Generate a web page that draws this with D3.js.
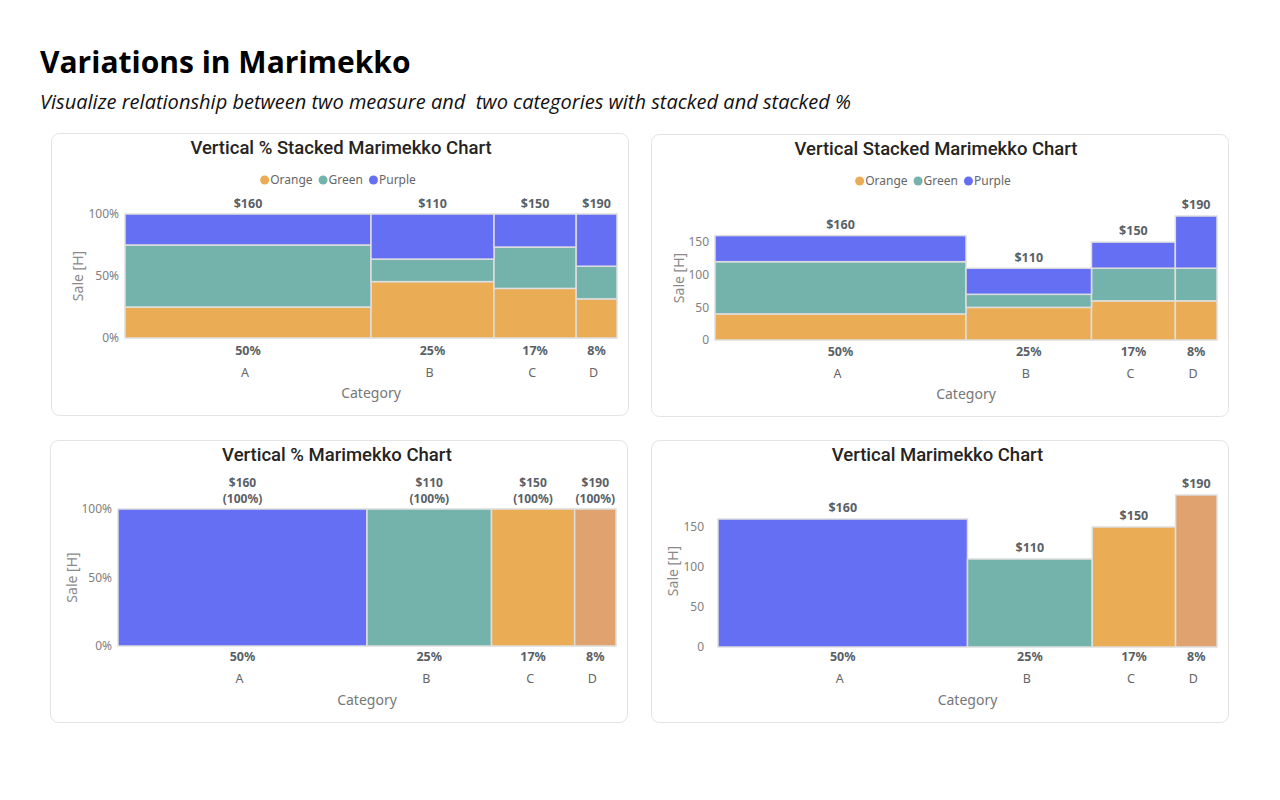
<!DOCTYPE html>
<html>
<head>
<meta charset="utf-8">
<script src="https://cdn.jsdelivr.net/npm/d3@7"></script>
<style>
  body { margin: 0; background: #fff; }
  svg { display: block; }
</style>
</head>
<body>
<svg id="chart" width="1280" height="800"></svg>
<script>
// ---------------- DATA ----------------
const categories = ["A", "B", "C", "D"];
const seriesNames = ["Orange", "Green", "Purple"];
const widthShare = [0.50, 0.25, 0.167, 0.083];     // share of width (bottom % labels)
const orangeValues = [40, 50, 60, 60];
const greenValues = [80, 20, 50, 50];
const purpleValues = [40, 40, 40, 80];
const totals = [160, 110, 150, 190];
const pctTicks = [0, 0.5, 1];
const valueTicks = [0, 50, 100, 150];

// ---------------- STYLE ----------------
const seriesColors = { Orange: "#EAAD55", Green: "#74B3AB", Purple: "#646FF3" };
const categoryColors = ["#646FF3", "#74B3AB", "#EAAD55", "#E0A36F"];
const titleFont = "Roboto, 'Noto Sans', sans-serif";
const labelFont = "'Noto Sans', 'Open Sans', sans-serif";

const svg = d3.select("#chart");

svg.append("text").attr("x", 40).attr("y", 73)
  .attr("font-family", "'Open Sans', sans-serif").attr("font-weight", 700)
  .attr("font-size", 30).attr("fill", "#000").text("Variations in Marimekko");
svg.append("text").attr("x", 40).attr("y", 109)
  .attr("font-family", "'Open Sans', sans-serif").attr("font-style", "italic")
  .attr("font-size", 19.5).attr("fill", "#111")
  .attr("textLength", 811).attr("lengthAdjust", "spacingAndGlyphs")
  .attr("xml:space", "preserve").style("white-space", "pre")
  .text("Visualize relationship between two measure and  two categories with stacked and stacked %");

const seriesValues = { Orange: orangeValues, Green: greenValues, Purple: purpleValues };

const panels = [
  { box: [51, 133, 577, 282], title: "Vertical % Stacked Marimekko Chart", titleY: 148, legendY: 180,
    plot: [125, 617, 338, 214], mode: "pctStack", topLabelY: 204, pctY: 351, catY: 373, axisTitleY: 393, yTitleX: 78 },
  { box: [651, 134, 577, 282], title: "Vertical Stacked Marimekko Chart", titleY: 149, legendY: 181,
    plot: [715, 1217, 340, 216], mode: "stack", pctY: 352, catY: 374, axisTitleY: 394, yTitleX: 679 },
  { box: [50, 440, 577, 282], title: "Vertical % Marimekko Chart", titleY: 455,
    plot: [118, 616, 646, 509], mode: "pct", topLabelY: 483, pctY: 657, catY: 679, axisTitleY: 700, yTitleX: 72 },
  { box: [651, 440, 577, 282], title: "Vertical Marimekko Chart", titleY: 455,
    plot: [718, 1217, 647, 495], mode: "value", pctY: 657, catY: 679, axisTitleY: 700, yTitleX: 673 }
];

panels.forEach(p => {
  const g = svg.append("g");
  const [bx, by, bw, bh] = p.box;
  g.append("rect").attr("x", bx + 0.5).attr("y", by + 0.5).attr("width", bw).attr("height", bh)
    .attr("rx", 8).attr("fill", "#fff").attr("stroke", "#e3e3e3").attr("stroke-width", 1);

  const [px0, px1, py0, py1] = p.plot;
  const cx = (px0 + px1) / 2;

  g.append("text").attr("x", cx - 30).attr("y", p.titleY)
    .attr("text-anchor", "middle").attr("dy", "0.35em")
    .attr("font-family", titleFont).attr("font-weight", 500).attr("font-size", 18.5).attr("fill", "#252423")
    .text(p.title);

  // legend
  if (p.legendY) {
    const lg = g.append("g");
    let x = 0;
    seriesNames.forEach(name => {
      lg.append("circle").attr("cx", x + 4.5).attr("cy", p.legendY).attr("r", 4.5).attr("fill", seriesColors[name]);
      const t = lg.append("text").attr("x", x + 10).attr("y", p.legendY).attr("dy", "0.35em")
        .attr("font-family", labelFont).attr("font-size", 12).attr("fill", "#666").text(name);
      x += 10 + t.node().getComputedTextLength() + 6;
    });
    const w = x - 6;
    lg.attr("transform", `translate(${cx - 33 - w / 2},0)`);
  }

  // x scale (cumulative widths)
  const cum = d3.cumsum(widthShare);
  const starts = widthShare.map((w, i) => cum[i] - w);
  const x = d3.scaleLinear().domain([0, d3.sum(widthShare)]).range([px0, px1]);

  const isPct = p.mode === "pct" || p.mode === "pctStack";
  const y = isPct ? d3.scaleLinear().domain([0, 1]).range([py0, py1])
                  : d3.scaleLinear().domain([0, d3.max(totals)]).range([py0, py1]);

  // y axis
  const yAxis = d3.axisLeft(y).tickValues(isPct ? pctTicks : valueTicks)
    .tickFormat(isPct ? d3.format(".0%") : d3.format("d")).tickSize(0).tickPadding(isPct ? 6 : (p.mode === "stack" ? 6 : 14));
  const ya = g.append("g").attr("transform", `translate(${px0},0)`).call(yAxis);
  ya.select(".domain").remove();
  ya.selectAll("text").attr("font-family", labelFont).attr("font-size", 12).attr("fill", "#808080");

  g.append("text").attr("transform", `translate(${p.yTitleX},${(py0 + py1) / 2}) rotate(-90)`)
    .attr("text-anchor", "middle").attr("dy", "0.35em")
    .attr("font-family", labelFont).attr("font-size", 14).attr("fill", "#8a8a8a").text("Sale [H]");

  const barStroke = "#dedede";
  if (p.mode === "pctStack" || p.mode === "stack") {
    const rows = categories.map((c, i) => {
      const r = { cat: c, i };
      seriesNames.forEach(s => r[s] = seriesValues[s][i]);
      return r;
    });
    const stack = d3.stack().keys(seriesNames);
    if (p.mode === "pctStack") stack.offset(d3.stackOffsetExpand);
    const layers = stack(rows);
    layers.forEach(layer => {
      g.append("g").selectAll("rect").data(layer).join("rect")
        .attr("x", (d, i) => x(starts[i]))
        .attr("width", (d, i) => x(cum[i]) - x(starts[i]))
        .attr("y", d => y(d[1]))
        .attr("height", d => y(d[0]) - y(d[1]))
        .attr("fill", seriesColors[layer.key])
        .attr("stroke", barStroke).attr("stroke-width", 1.5);
    });
  } else {
    g.append("g").selectAll("rect").data(totals).join("rect")
      .attr("x", (d, i) => x(starts[i]))
      .attr("width", (d, i) => x(cum[i]) - x(starts[i]))
      .attr("y", d => p.mode === "pct" ? y(1) : y(d))
      .attr("height", d => p.mode === "pct" ? y(0) - y(1) : y(0) - y(d))
      .attr("fill", (d, i) => categoryColors[i])
      .attr("stroke", barStroke).attr("stroke-width", 1.5);
  }

  const mid = i => x(starts[i] + widthShare[i] / 2);
  const bold = (sel, size = 12.5) => sel.attr("font-family", labelFont).attr("font-weight", 700)
    .attr("font-size", size).attr("fill", "#5a5f66").attr("text-anchor", "middle").attr("dy", "0.35em");

  // top labels
  totals.forEach((t, i) => {
    const lx = mid(i);
    if (p.mode === "pctStack") {
      bold(g.append("text").attr("x", lx).attr("y", p.topLabelY)).text("$" + t);
    } else if (p.mode === "pct") {
      bold(g.append("text").attr("x", lx).attr("y", p.topLabelY), 12).text("$" + t);
      bold(g.append("text").attr("x", lx).attr("y", p.topLabelY + 16), 12).text("(100%)");
    } else {
      bold(g.append("text").attr("x", lx).attr("y", y(t) - 11)).text("$" + t);
    }
    bold(g.append("text").attr("x", lx).attr("y", p.pctY)).text(d3.format(".0%")(widthShare[i]));
    g.append("text").attr("x", lx - 3).attr("y", p.catY).attr("dy", "0.35em").attr("text-anchor", "middle")
      .attr("font-family", labelFont).attr("font-size", 12.5).attr("fill", "#666").text(categories[i]);
  });

  g.append("text").attr("x", cx).attr("y", p.axisTitleY).attr("dy", "0.35em").attr("text-anchor", "middle")
    .attr("font-family", labelFont).attr("font-size", 14).attr("fill", "#777").text("Category");
});
</script>
</body>
</html>
